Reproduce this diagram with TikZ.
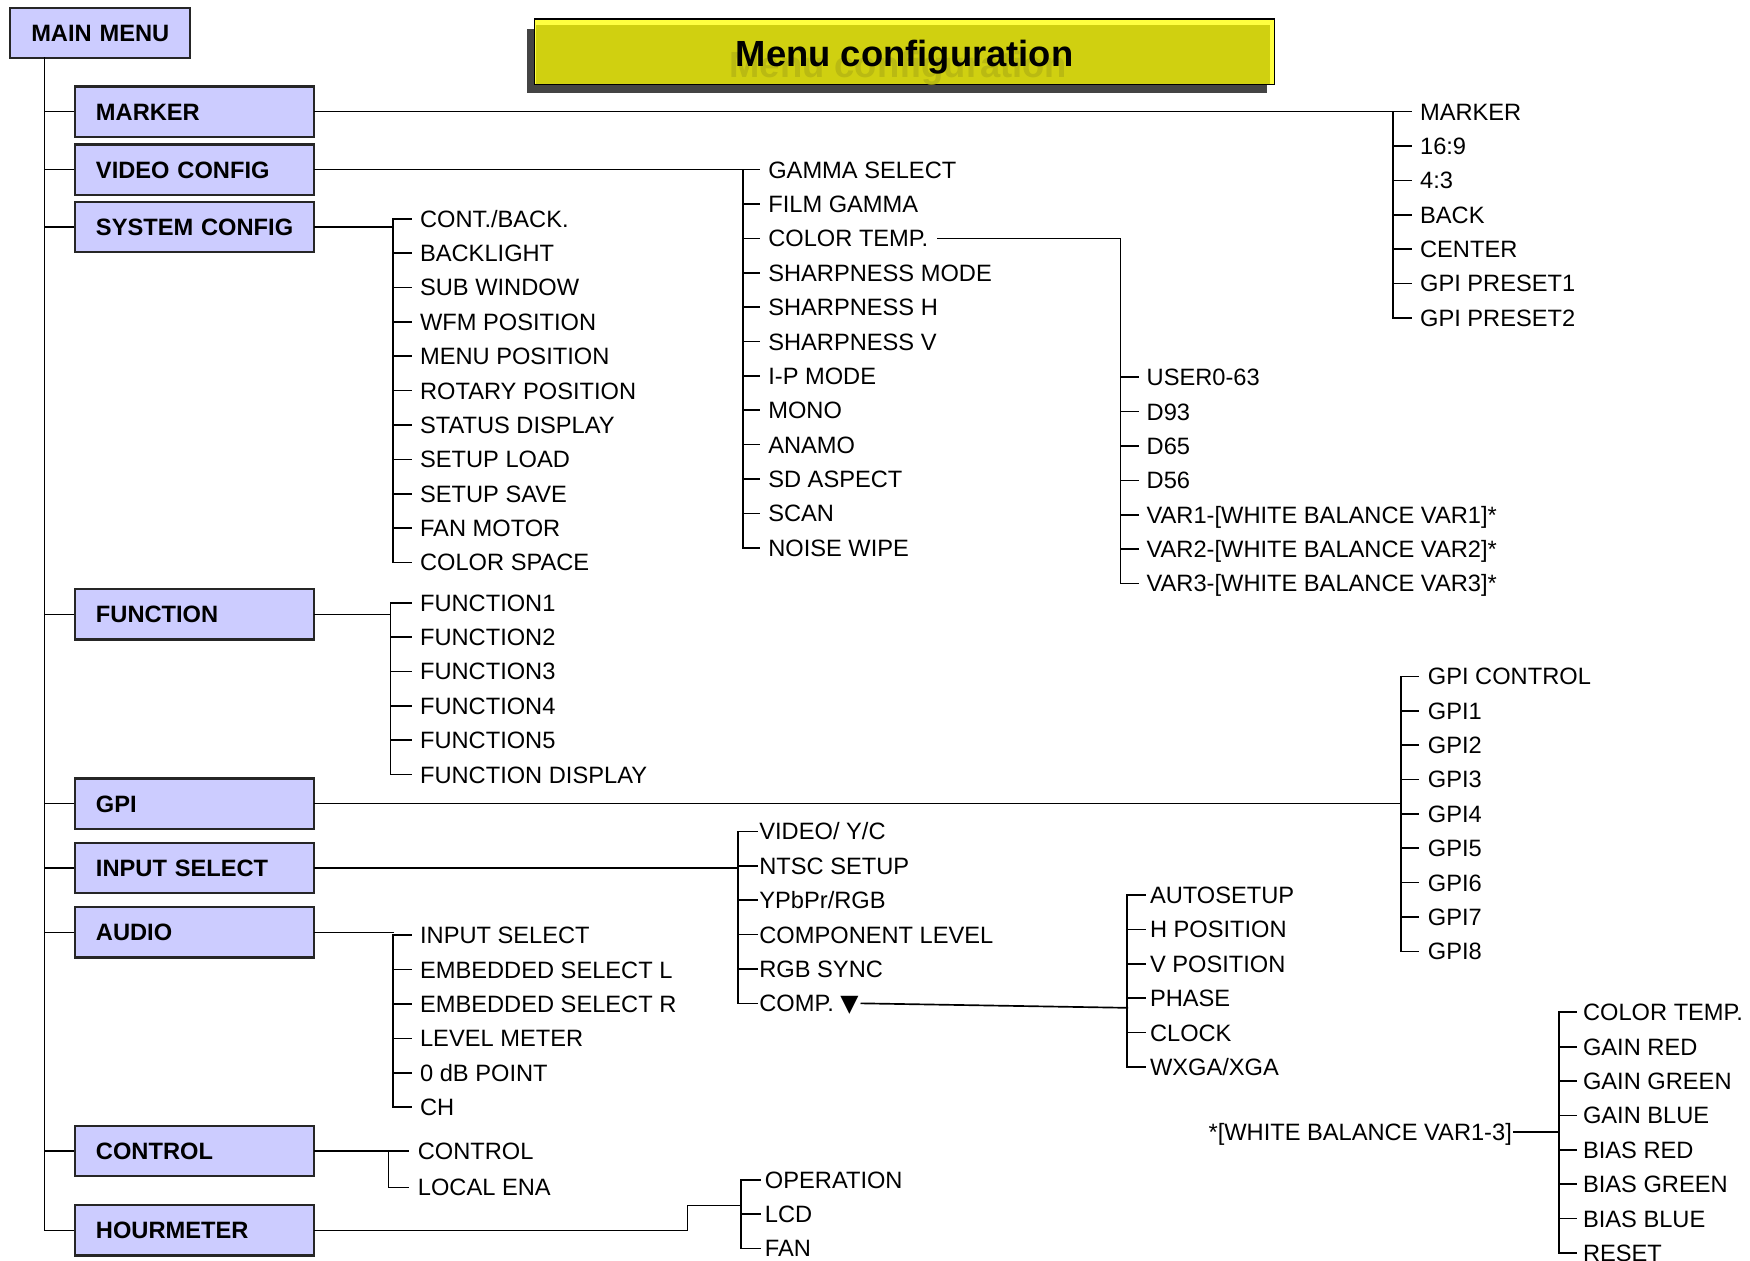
\documentclass[tikz,border=0pt]{standalone}
\usepackage{fontspec}
\setmainfont{Liberation Sans}
\newfontfamily\symfont{DejaVu Sans}
\usetikzlibrary{positioning}

\definecolor{boxfill}{RGB}{204,204,255}
\definecolor{titlefill}{RGB}{208,208,16}
\definecolor{titlelight}{RGB}{255,255,64}
\definecolor{titleshade}{RGB}{68,68,68}
\definecolor{titleghost}{RGB}{186,186,18}

\tikzset{
  menubox/.style={draw=black!85, line width=1pt, fill=boxfill, anchor=west,
    minimum height=22.5pt, inner xsep=9.5pt, inner ysep=0pt, text width=88pt,
    align=left, text height=7.6pt, text depth=0pt,
    font=\bfseries\fontsize{10.6}{12}\selectfont},
  item/.style={anchor=west, inner xsep=4pt, inner ysep=0pt,
    text height=7.6pt, text depth=0pt, font=\fontsize{10.6}{12}\selectfont},
  titletext/.style={inner sep=0pt, text height=11.7pt, text depth=0pt,
    font=\bfseries\fontsize{16.3}{18}\selectfont},
  link/.style={line width=0.75pt, line cap=rect},
}

% bar with one tick per item: prefix, bar coordinate, number of items
\newcommand\drawbracket[3]{%
  \draw[link] (#2 |- #11.west) -- (#2 |- #1#3.west);
  \foreach \k in {1,...,#3} \draw[link] (#2 |- #1\k.west) -- (#1\k.west);
}

\begin{document}
\begin{tikzpicture}[x=0.5pt,y=-0.5pt]
\useasboundingbox (0,0) rectangle (1568,1129);

% Title
\fill[titleshade] (472,26) rectangle (1135,83);
\draw[line width=0.6pt, fill=titlelight] (479,17) rectangle (1142,76);
\fill[titlefill] (480.5,22) rectangle (1137.5,75);
\node[titletext, text=titleghost] (ghost) at (805,58) {Menu configuration};
\node[titletext] (title) at (810.5,48) {Menu configuration};

% Main menu and first level
\node[menubox, text width=61.5pt] (mainmenu) at (8,29.5) {\mbox{MAIN MENU}};
\node[menubox] (marker) at (66,100) {MARKER};
\node[menubox] (video) at (66,152) {VIDEO CONFIG};
\node[menubox] (system) at (66,203.5) {\mbox{SYSTEM CONFIG}};
\node[menubox] (function) at (66,550.5) {FUNCTION};
\node[menubox] (gpi) at (66,720) {GPI};
\node[menubox] (inputsel) at (66,777.5) {INPUT SELECT};
\node[menubox] (audio) at (66,835.5) {AUDIO};
\node[menubox] (control) at (66,1031.5) {CONTROL};
\node[menubox] (hourmeter) at (66,1102.5) {HOURMETER};

\coordinate (trunk) at (40,52);
\draw[link] (trunk) |- (hourmeter.west);
\foreach \b in {marker,video,system,function,gpi,inputsel,audio,control}
  \draw[link] (trunk |- \b.west) -- (\b.west);

% Bars of the sub menus
\coordinate (markbar) at (1248,0);
\coordinate (vidbar) at (666,0);
\coordinate (tempbar) at (1004,0);
\coordinate (sysbar) at (352,0);
\coordinate (funcbar) at (350,0);
\coordinate (gpibar) at (1255,0);
\coordinate (inbar) at (661,0);
\coordinate (compbar) at (1010,0);
\coordinate (audbar) at (352,0);
\coordinate (ctlbar) at (348,0);
\coordinate (hourbar) at (664,0);
\coordinate (wbbar) at (1397,0);

% MARKER
\foreach \t [count=\i] in {MARKER,16:9,4:3,BACK,CENTER,GPI PRESET1,GPI PRESET2}
  \node[item] (mark\i) at (1264,{100+30.8*(\i-1)}) {\t};
\draw[link] (marker.east) -- (markbar |- marker.east);
\drawbracket{mark}{markbar}{7}

% VIDEO CONFIG
\foreach \t [count=\i] in {GAMMA SELECT,FILM GAMMA,COLOR TEMP.,SHARPNESS MODE,SHARPNESS H,SHARPNESS V,I-P MODE,MONO,ANAMO,SD ASPECT,SCAN,NOISE WIPE}
  \node[item] (vid\i) at (680,{152+30.8*(\i-1)}) {\t};
\draw[link] (video.east) -- (vidbar |- video.east);
\drawbracket{vid}{vidbar}{12}

% COLOR TEMP.
\foreach \t [count=\i] in {USER0-63,D93,D65,D56,VAR1-[WHITE BALANCE VAR1]*,VAR2-[WHITE BALANCE VAR2]*,VAR3-[WHITE BALANCE VAR3]*}
  \node[item, inner xsep=3.5pt] (temp\i) at (1020,{338+30.8*(\i-1)}) {\t};
\draw[link] (vid3.east) -| (tempbar |- temp1.west);
\drawbracket{temp}{tempbar}{7}

% SYSTEM CONFIG
\foreach \t [count=\i] in {CONT./BACK.,BACKLIGHT,SUB WINDOW,WFM POSITION,MENU POSITION,ROTARY POSITION,STATUS DISPLAY,SETUP LOAD,SETUP SAVE,FAN MOTOR,COLOR SPACE}
  \node[item] (sys\i) at (368,{196+30.8*(\i-1)}) {\t};
\draw[link] (system.east) -- (sysbar |- system.east);
\drawbracket{sys}{sysbar}{11}

% FUNCTION
\foreach \t [count=\i] in {FUNCTION1,FUNCTION2,FUNCTION3,FUNCTION4,FUNCTION5,FUNCTION DISPLAY}
  \node[item] (func\i) at (368,{540+30.8*(\i-1)}) {\t};
\draw[link] (function.east) -- (funcbar |- function.east);
\drawbracket{func}{funcbar}{6}

% GPI
\foreach \t [count=\i] in {GPI CONTROL,GPI1,GPI2,GPI3,GPI4,GPI5,GPI6,GPI7,GPI8}
  \node[item] (gpi\i) at (1271,{606+30.8*(\i-1)}) {\t};
\draw[link] (gpi.east) -- (gpibar |- gpi.east);
\drawbracket{gpi}{gpibar}{9}

% INPUT SELECT
\foreach \t [count=\i] in {VIDEO/ Y/C,NTSC SETUP,YPbPr/RGB,COMPONENT LEVEL,RGB SYNC,COMP. {\symfont ▼}}
  \node[item, inner xsep=1pt] (in\i) at (678,{745+30.8*(\i-1)}) {\t};
\draw[link] (inputsel.east) -- (inbar |- inputsel.east);
\drawbracket{in}{inbar}{6}

% COMP.
\foreach \t [count=\i] in {AUTOSETUP,H POSITION,V POSITION,PHASE,CLOCK,WXGA/XGA}
  \node[item, inner xsep=2pt] (comp\i) at (1026,{802+30.8*(\i-1)}) {\t};
\coordinate (compjoin) at (1010,903);
\draw[link] (in6.east) -- (compjoin);
\drawbracket{comp}{compbar}{6}

% AUDIO
\foreach \t [count=\i] in {INPUT SELECT,EMBEDDED SELECT L,EMBEDDED SELECT R,LEVEL METER,0 dB POINT,CH}
  \node[item] (aud\i) at (368,{838+30.8*(\i-1)}) {\t};
\draw[link] (audio.east) -- (audbar |- audio.east);
\drawbracket{aud}{audbar}{6}

% CONTROL
\foreach \t [count=\i] in {CONTROL,LOCAL ENA}
  \node[item] (ctl\i) at (366,{1031.5+32.5*(\i-1)}) {\t};
\draw[link] (control.east) -- (ctlbar |- control.east);
\drawbracket{ctl}{ctlbar}{2}

% HOURMETER
\foreach \t [count=\i] in {OPERATION,LCD,FAN}
  \node[item, inner xsep=2pt] (hour\i) at (681,{1057+30.8*(\i-1)}) {\t};
\coordinate (hourjog) at (616,1080);
\draw[link] (hourmeter.east) -| (hourjog) -- (hourbar |- hourjog);
\drawbracket{hour}{hourbar}{3}

% WHITE BALANCE
\node[item, anchor=east, inner xsep=0.5pt] (wb) at (1356,1014) {*[WHITE BALANCE VAR1-3]};
\foreach \t [count=\i] in {COLOR TEMP.,GAIN RED,GAIN GREEN,GAIN BLUE,BIAS RED,BIAS GREEN,BIAS BLUE,RESET}
  \node[item, inner xsep=3pt] (wb\i) at (1412,{907+30.8*(\i-1)}) {\t};
\draw[link] (wb.east) -- (wbbar |- wb.east);
\drawbracket{wb}{wbbar}{8}

\end{tikzpicture}
\end{document}
